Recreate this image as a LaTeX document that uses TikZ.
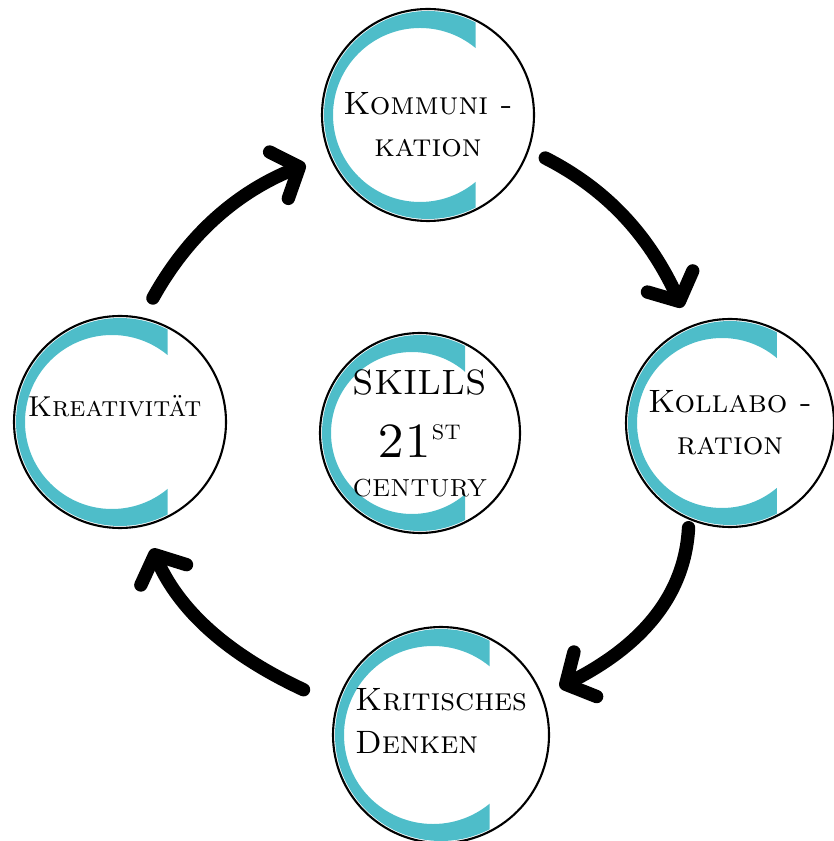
\documentclass[tikz,border=0pt]{standalone}
\usetikzlibrary{arrows.meta}

\definecolor{ring}{RGB}{78,189,201}
\newcommand\skillfont{\fontsize{9.2}{12}\selectfont\scshape}

\tikzset{
  skill/.style={circle, draw=black, line width=0.6pt, inner sep=0pt,
    minimum size={2*#1 cm}, align=center, font=\skillfont,
    path picture={
      \begin{scope}
        \clip ([xshift=-3cm,yshift=-3cm]path picture bounding box.center)
          rectangle ([xshift={0.45*#1 cm},yshift=3cm]path picture bounding box.center);
        \fill[ring, even odd rule]
          (path picture bounding box.center) circle ({#1-0.02})
          ([xshift=-0.08cm]path picture bounding box.center) circle ({#1-0.19});
      \end{scope}}},
  flow/.style={line width=3.8pt, line cap=round,
    -{Straight Barb[length=0.22cm, width=0.5cm, round]}},
}

\begin{document}
\begin{tikzpicture}
                \useasboundingbox (0,0) rectangle (8.33,-8.41);

                \node[skill=1.06] (komm) at (4.28, -1.15) { \rule{0pt}{12pt}Kommuni -\\kation };
                \node[skill=1.06, font=\fontsize{8.2}{10}\selectfont\scshape] (krea) at (1.20, -4.22)
                    { Kreativität\rule[-9pt]{0pt}{0pt} };
                \node[skill=1.0] (core) at (4.20, -4.33)
                    { {\fontsize{10}{12}\selectfont SKILLS}\\[6pt]
                      {\fontsize{14}{15}\selectfont 21\textsuperscript{\fontsize{6}{6}\selectfont ST}}\\[-1pt]
                      {\fontsize{7}{9}\selectfont CENTURY} };
                \node[skill=1.04] (kolla) at (7.30, -4.23) { Kollabo -\\ration };
                \node[skill=1.08, align=left] (krit) at (4.41, -7.35) { Kritisches\\Denken\rule[-8pt]{0pt}{0pt} };

                \draw[flow, shorten <=0.22cm, shorten >=0.25cm] (krea.78) to[out=61, in=202] (komm.202);
                \draw[flow, shorten <=0.18cm, shorten >=0.2cm] (komm.-19) to[out=-27, in=115] (kolla.112);
                \draw[flow, shorten <=0.08cm, shorten >=0.19cm] (kolla.247) to[out=-93, in=27] (krit.21);
                \draw[flow, shorten <=0.36cm, shorten >=0.24cm] (krit.164) to[out=155, in=-66] (krea.-78);
            \end{tikzpicture}
\end{document}
